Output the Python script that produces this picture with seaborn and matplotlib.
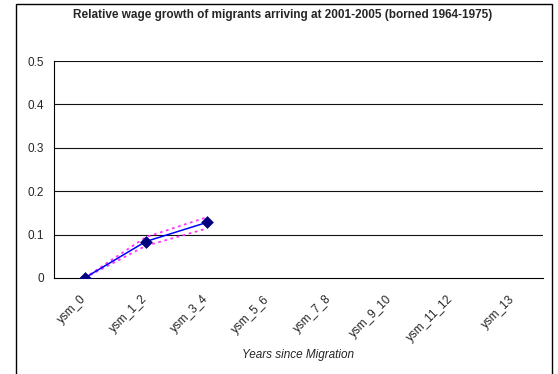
import matplotlib
matplotlib.use("Agg")
import matplotlib.pyplot as plt
from matplotlib.patches import Rectangle
import seaborn as sns
import pandas as pd

categories = ["ysm_0", "ysm_1_2", "ysm_3_4", "ysm_5_6", "ysm_7_8",
              "ysm_9_10", "ysm_11_12", "ysm_13"]
growth = [0.0, 0.084, 0.128]
upper = [0.0, 0.094, 0.140]
lower = [0.0, 0.074, 0.114]
y_ticks = [0, 0.1, 0.2, 0.3, 0.4, 0.5]
y_tick_labels = ["0", "0.1", "0.2", "0.3", "0.4", "0.5"]

sns.set_style("white")
plt.rcParams["font.family"] = ["Liberation Sans", "DejaVu Sans"]

df = pd.DataFrame({
    "pos": list(range(len(growth))),
    "growth": growth,
    "upper": upper,
    "lower": lower,
})

fig = plt.figure(figsize=(5.58, 3.74), dpi=100)
fig.patches.append(Rectangle((15.5 / 558, -0.01), (552 - 15.5) / 558, 1 - 3.5 / 374 + 0.01,
                             transform=fig.transFigure, fill=False,
                             edgecolor="black", linewidth=1.0))
ax = fig.add_axes([54 / 558, 96 / 374, (543 - 54) / 558, (278 - 61) / 374])

for yv in y_ticks[1:]:
    ax.axhline(yv, color="#111111", linewidth=0.8, zorder=0)

sns.lineplot(data=df, x="pos", y="upper", ax=ax, color="#ff33ff",
             linewidth=1.3, linestyle=(0, (1.5, 2.0)), zorder=2)
sns.lineplot(data=df, x="pos", y="lower", ax=ax, color="#ff33ff",
             linewidth=1.3, linestyle=(0, (1.5, 2.0)), zorder=2)
sns.lineplot(data=df, x="pos", y="growth", ax=ax, color="#0000ff",
             linewidth=1.1, zorder=3)
sns.scatterplot(data=df, x="pos", y="growth", ax=ax, marker="D", s=36,
                color="#000080", edgecolor="#000080", zorder=4)

ax.set_xlim(-0.5, len(categories) - 0.5)
ax.set_ylim(0, 0.5)
ax.set_yticks(y_ticks)
ax.set_yticklabels(y_tick_labels, fontsize=8.5)
ax.set_xticks(range(len(categories)))
# right-centre anchoring pulls the rotated labels slightly left of the category centre
ax.set_xticklabels(categories, rotation=45, ha="right", va="center",
                   rotation_mode="anchor", fontsize=8.5)
ax.set_xticks([i - 0.5 for i in range(len(categories) + 1)], minor=True)
ax.tick_params(axis="x", which="major", length=0, pad=14)
ax.tick_params(axis="x", which="minor", length=4, width=0.8, direction="out",
               color="black")
ax.tick_params(axis="y", length=4, width=0.8, direction="out", color="black",
               pad=3)

for side in ["top", "right"]:
    ax.spines[side].set_visible(False)
for side in ["left", "bottom"]:
    ax.spines[side].set_color("black")
    ax.spines[side].set_linewidth(0.8)

ax.set_xlabel("")
ax.set_ylabel("")
fig.text(298 / 558, 1 - 355 / 374, "Years since Migration", style="italic",
         fontsize=8.5, ha="center", va="center")
fig.text(283 / 558, 1 - 15 / 374,
         "Relative wage growth of migrants arriving at 2001-2005 (borned 1964-1975)",
         fontsize=8.5, fontweight="bold", ha="center", va="center")

fig.savefig("out.png", dpi=100)
